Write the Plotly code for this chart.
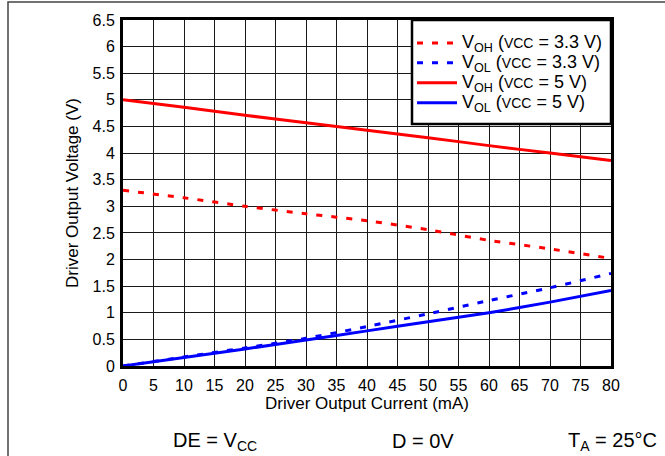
import plotly.graph_objects as go

# Driver output current (mA)
current_ma = [0, 10, 20, 30, 40, 50, 60, 70, 80]

# Driver output voltage (V) for each condition
voh_3v3 = [3.30, 3.16, 3.00, 2.86, 2.73, 2.56, 2.36, 2.20, 2.02]
vol_3v3 = [0.00, 0.17, 0.34, 0.52, 0.74, 0.98, 1.23, 1.47, 1.74]
voh_5v = [5.00, 4.86, 4.71, 4.57, 4.43, 4.29, 4.14, 4.00, 3.86]
vol_5v = [0.00, 0.16, 0.32, 0.49, 0.66, 0.83, 1.00, 1.20, 1.42]

x_ticks = list(range(0, 81, 5))
y_ticks = [i * 0.5 for i in range(0, 14)]
y_tick_labels = ["0", "0.5", "1", "1.5", "2", "2.5", "3", "3.5", "4", "4.5", "5", "5.5", "6", "6.5"]

FONT = "Liberation Sans, Arial, sans-serif"


def legend_label(kind, vcc):
    big = "<span style='font-size:18px'>"
    return (f"{big}V<sub>{kind}</sub> (</span>"
            f"<span style='font-size:14px'>VCC</span>"
            f"{big} = {vcc} V)</span>")


series = [
    (voh_3v3, legend_label("OH", "3.3"), "#ff0000", "6px,9px"),
    (vol_3v3, legend_label("OL", "3.3"), "#0000ff", "6px,9px"),
    (voh_5v, legend_label("OH", "5"), "#ff0000", "solid"),
    (vol_5v, legend_label("OL", "5"), "#0000ff", "solid"),
]

fig = go.Figure()
for values, name, color, dash in series:
    fig.add_trace(go.Scatter(
        x=current_ma, y=values, name=name, mode="lines",
        line=dict(color=color, width=3, dash=dash, shape="spline", smoothing=0.6),
    ))

L, R, T, B = 123, 54, 20, 90
W, H = 665, 456
pw, ph = W - L - R, H - T - B


def px_x(px):
    return (px - L) / pw


def px_y(py):
    return (H - B - py) / ph


axis_common = dict(
    showline=True, linewidth=3, linecolor="black", mirror=True,
    showgrid=True, gridcolor="#1a1a1a", gridwidth=1,
    zeroline=False, ticks="", tickfont=dict(size=16, color="black"),
)

fig.update_layout(
    width=W, height=H,
    margin=dict(l=L, r=R, t=T, b=B),
    paper_bgcolor="white", plot_bgcolor="white",
    font=dict(family=FONT, color="black"),
    showlegend=True,
    legend=dict(
        x=px_x(412), y=px_y(28), xanchor="left", yanchor="top",
        bgcolor="rgba(0,0,0,0)", borderwidth=0,
        font=dict(size=13, color="black"),
        tracegroupgap=0, itemwidth=40,
    ),
    xaxis=dict(
        range=[0, 80], tickvals=x_ticks, ticklabelstandoff=3,
        title=dict(text="Driver Output Current (mA)", font=dict(size=17), standoff=2),
        **axis_common,
    ),
    yaxis=dict(
        range=[0, 6.5], tickvals=y_ticks, ticktext=y_tick_labels, ticklabelstandoff=2,
        title=dict(text="Driver Output Voltage (V)", font=dict(size=17), standoff=10),
        **axis_common,
    ),
)

# Legend box, covering the grid behind it
fig.add_shape(
    type="rect", xref="paper", yref="paper",
    x0=px_x(412), x1=1, y0=px_y(124), y1=1,
    line=dict(color="black", width=2.5), fillcolor="white", layer="above",
)

# Outer frame around the figure
fig.add_shape(
    type="rect", xref="paper", yref="paper",
    x0=px_x(8), x1=px_x(680), y0=px_y(470), y1=px_y(2),
    line=dict(color="#444", width=1.5), fillcolor="rgba(0,0,0,0)", layer="below",
)

# Test conditions along the bottom
conditions = [
    ("DE = V<sub>CC</sub>", 215),
    ("D = 0V", 423),
    ("T<sub>A</sub> = 25°C", 612),
]
for text, cx in conditions:
    fig.add_annotation(
        text=text, xref="paper", yref="paper",
        x=px_x(cx), y=px_y(441), xanchor="center", yanchor="middle",
        showarrow=False, font=dict(size=20, color="black", family=FONT),
    )

fig.write_html("out.html")
